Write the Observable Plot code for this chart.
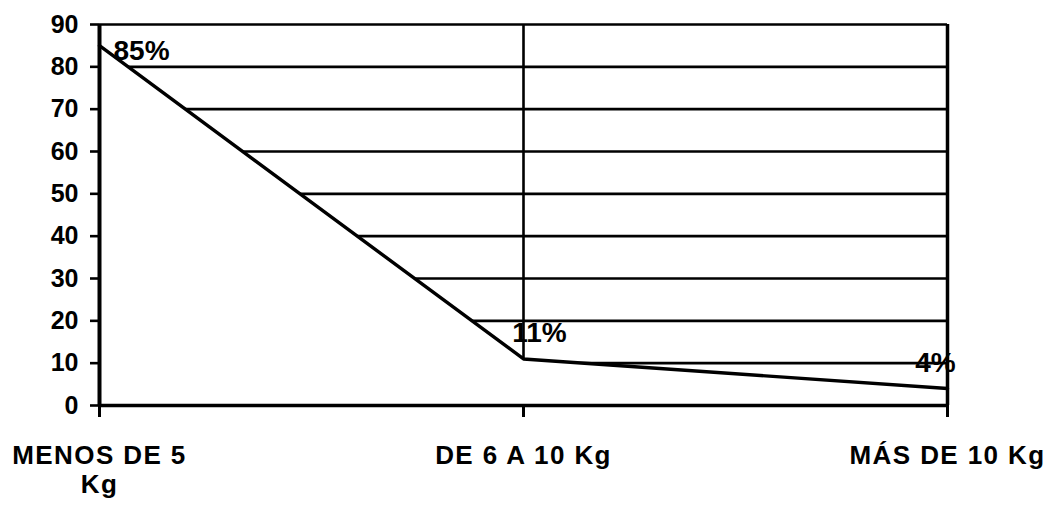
<!DOCTYPE html>
<html><head><meta charset="utf-8">
<script src="https://cdn.jsdelivr.net/npm/d3@7"></script>
<script src="https://cdn.jsdelivr.net/npm/@observablehq/plot@0.6"></script>
<style>
body{margin:0;background:#fff}
#chart svg{font-family:"Liberation Sans",Arial,sans-serif;font-weight:bold}
#chart g[aria-label="x-axis tick label"] text{letter-spacing:1.4px}
</style>
</head><body><div id="chart"></div>
<script>
const categories = ["MENOS DE 5\nKg", "DE 6 A 10 Kg", "MÁS DE 10 Kg"];
const values = [85, 11, 4];
const valueLabels = ["85%", "11%", "4%"];
const yTicks = [0, 10, 20, 30, 40, 50, 60, 70, 80, 90];

const data = categories.map((c, i) => ({category: c, value: values[i], label: valueLabels[i]}));

const chart = Plot.plot({
  width: 1052, height: 505,
  marginTop: 24, marginBottom: 100, marginLeft: 99, marginRight: 105,
  style: {background: "#fff", color: "#000", fontFamily: "'Liberation Sans', Arial, sans-serif", fontWeight: "bold"},
  x: {type: "point", domain: categories, padding: 0},
  y: {domain: [0, 90], ticks: yTicks},
  marks: [
    Plot.ruleY(yTicks.filter(d => d > 0), {stroke: "#000", strokeWidth: 2.6}),
    Plot.ruleX([categories[1]], {y1: 0, y2: 90, stroke: "#000", strokeWidth: 2.6}),
    Plot.areaY(data, {x: "category", y: "value", fill: "#fff"}),
    Plot.lineY(data, {x: "category", y: "value", stroke: "#000", strokeWidth: 3.4}),
    Plot.ruleY([0], {stroke: "#000", strokeWidth: 3.5}),
    Plot.ruleX([categories[0]], {y1: 0, y2: 90, stroke: "#000", strokeWidth: 4}),
    Plot.ruleX([categories[2]], {y1: 0, y2: 90, stroke: "#000", strokeWidth: 3.5}),
    Plot.axisY({ticks: yTicks, tickSize: 9, tickPadding: 12, fontSize: 25, label: null, strokeWidth: 2.6}),
    Plot.axisX({tickSize: 12, tickPadding: 26, fontSize: 26, label: null, lineHeight: 1.12, strokeWidth: 3}),
    Plot.text([data[0]], {x: "category", y: "value", text: "label", textAnchor: "start", dx: 14, dy: 5, fontSize: 28, fill: "#000"}),
    Plot.text([data[1]], {x: "category", y: "value", text: "label", dx: 16, dy: -26, fontSize: 28, fill: "#000"}),
    Plot.text([data[2]], {x: "category", y: "value", text: "label", dx: -12, dy: -26, fontSize: 28, fill: "#000"})
  ]
});
document.getElementById("chart").append(chart);
</script>
</body></html>
